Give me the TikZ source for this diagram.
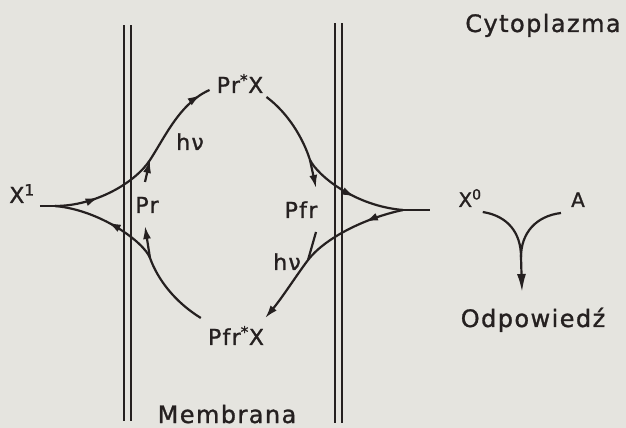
\documentclass[tikz,border=0pt]{standalone}
\usepackage{fontspec}
\setmainfont{DejaVu Sans}[LetterSpace=6, FakeBold=1.2]
\usepackage{tikz}
\usetikzlibrary{arrows.meta, decorations.markings}
\definecolor{cink}{HTML}{252020}
\definecolor{cpaper}{HTML}{E5E4DF}

\begin{document}
\begin{tikzpicture}[x=1pt, y=1pt,
  lbl/.style={cink, font=\fontsize{22}{24}\selectfont, anchor=base, inner sep=0pt},
  big/.style={lbl, font=\fontsize{24}{26}\selectfont},
  wall/.style={cink, line width=1.7pt},
  flow/.style={cink, line width=2.2pt},
  midarrow/.style={postaction={decorate, decoration={markings,
    mark=at position #1 with {\arrow{Latex[length=13pt, width=8pt]}}}}},
  tiparrow/.style={-{Latex[length=13pt, width=8pt]}}
]

% paper
\fill[cpaper] (0,0) rectangle (626,428);

% ============================================================
% Labels
\node[big] (Cyto) at (543,396) {Cytoplazma};
\node[big] (Membr) at (227,5) {Membrana};
\node[big] (Odp) at (533,101) {Odpowiedź};

\node[lbl] (X1) at (22,225) {X\textsuperscript{1}};
\node[lbl] (PrX) at (240,335) {Pr\textsuperscript{*}X};
\node[lbl] (hv1) at (190,278) {hν};
\node[lbl] (Pr) at (147,215) {Pr};
\node[lbl] (Pfr) at (301,210) {Pfr};
\node[lbl] (hv2) at (287,158) {hν};
\node[lbl] (PfrX) at (236,83) {Pfr\textsuperscript{*}X};
\node[lbl, font=\fontsize{20}{22}\selectfont] (X0) at (470,221) {X\textsuperscript{0}};
\node[lbl, font=\fontsize{20}{22}\selectfont] (A) at (578,221) {A};

% ============================================================
% Membrane: two double walls
\draw[wall] (124,7) -- (124,403);
\draw[wall] (131,7) -- (131,403);
\draw[wall] (335,5) -- (335,405);
\draw[wall] (342,5) -- (342,405);

% cusps and branch points
\coordinate (cusL) at (55,222);
\coordinate (jPrU) at (150,268);
\coordinate (jPrL) at (150,170);
\coordinate (cusR) at (403,218);
\coordinate (tailR) at (430,218);
\coordinate (jPfrU) at (310,268);
\coordinate (jPfrL) at (308,168);

% ============================================================
% Left half: X1 + Pr -> Pr*X, and back from Pfr*X
\draw[flow] ([shift={(5,-3)}]X1.base east) -- (cusL);
\draw[flow, midarrow=0.22, midarrow=0.95]
  (cusL) .. controls (95,222) and (135,245) .. (jPrU)
         .. controls (165,291) and (180,325) .. ([shift={(-7,3)}]PrX.base west);
\draw[flow, tiparrow] ([shift={(-2,31)}]Pr.base) -- (jPrU);

\draw[flow, midarrow=0.71]
  ([shift={(-7,27)}]PfrX.base west) .. controls (175,126) and (158,148) .. (jPrL)
         .. controls (144,186) and (100,218) .. (cusL);
\draw[flow, tiparrow] (jPrL) -- ([shift={(-2,-13)}]Pr.base);

% ============================================================
% Right half: Pr*X -> Pfr + X, and Pfr + X -> Pfr*X
\draw[flow, midarrow=0.73]
  ([shift={(3,-4)}]PrX.base east) .. controls (288,315) and (303,290) .. (jPfrU)
         .. controls (318,252) and (355,222) .. (cusR);
\draw[flow, tiparrow] (jPfrU) -- ([shift={(15,30)}]Pfr.base);
\draw[flow] (cusR) -- (tailR);

\draw[flow, midarrow=0.22, tiparrow]
  (cusR) .. controls (365,210) and (325,190) .. (jPfrL)
         .. controls (296,152) and (282,130) .. ([shift={(1,27)}]PfrX.base east);
\draw[flow] ([shift={(15,-14)}]Pfr.base) -- (jPfrL);

% ============================================================
% Cytoplasm: X0 + A -> response
\coordinate (vJ) at (521,171);
\coordinate (tipV) at (522,136);
\draw[flow] ([shift={(1,-5)}]X0.base east) .. controls (508,212) and (521,195) .. (vJ);
\draw[flow] ([shift={(-10,-6)}]A.base west) .. controls (536,212) and (521,195) .. (vJ);
\draw[flow, -{Latex[length=18pt, width=9pt]}] (vJ) -- (tipV);

\end{tikzpicture}
\end{document}
